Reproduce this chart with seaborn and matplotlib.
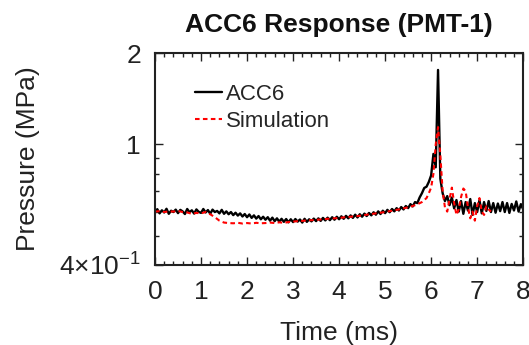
import numpy as np
import pandas as pd
import matplotlib
matplotlib.use("Agg")
import matplotlib.pyplot as plt
from matplotlib.ticker import FixedLocator, MultipleLocator, NullFormatter
import seaborn as sns

# ACC6 measured pressure (MPa), every 0.05 ms from 0 to 8 ms
acc6_time = np.linspace(0, 8, 161)
acc6_mpa = [
    0.600, 0.611, 0.592, 0.606, 0.596, 0.613, 0.590, 0.604, 0.598, 0.609,
    0.593, 0.608, 0.601, 0.589, 0.612, 0.597, 0.606, 0.591, 0.610, 0.599,
    0.594, 0.612, 0.596, 0.607, 0.590, 0.609, 0.598, 0.603, 0.592, 0.608,
    0.590, 0.601, 0.588, 0.598, 0.584, 0.595, 0.582, 0.592, 0.578, 0.589,
    0.575, 0.587, 0.572, 0.583, 0.569, 0.580, 0.566, 0.577, 0.564, 0.575,
    0.560, 0.573, 0.558, 0.570, 0.556, 0.568, 0.555, 0.567, 0.553, 0.566,
    0.554, 0.567, 0.556, 0.565, 0.552, 0.568, 0.555, 0.566, 0.557, 0.569,
    0.558, 0.570, 0.559, 0.572, 0.561, 0.573, 0.562, 0.575, 0.564, 0.577,
    0.566, 0.579, 0.568, 0.581, 0.570, 0.583, 0.572, 0.586, 0.574, 0.588,
    0.577, 0.591, 0.580, 0.594, 0.583, 0.597, 0.586, 0.601, 0.589, 0.604,
    0.593, 0.608, 0.597, 0.612, 0.601, 0.616, 0.605, 0.621, 0.610, 0.626,
    0.616, 0.635, 0.624, 0.645, 0.640, 0.668, 0.690, 0.718, 0.725, 0.752,
    0.790, 0.930, 0.840, 1.760, 0.770, 0.690, 0.650, 0.675, 0.630, 0.668,
    0.615, 0.655, 0.600, 0.650, 0.590, 0.645, 0.605, 0.660, 0.585, 0.640,
    0.598, 0.655, 0.592, 0.645, 0.603, 0.650, 0.598, 0.640, 0.595, 0.638,
    0.602, 0.645, 0.598, 0.640, 0.594, 0.636, 0.605, 0.648, 0.600, 0.635,
    0.610,
]

# simulation: 0.1 ms steps up to 5.9 ms, then 0.05 ms steps to 7.3 ms
sim_time = np.concatenate([np.linspace(0, 5.9, 60), np.linspace(5.95, 7.3, 28)])
sim_mpa = [
    0.600, 0.602, 0.598, 0.601, 0.600, 0.603, 0.598, 0.596, 0.590, 0.594,
    0.592, 0.598, 0.588, 0.575, 0.560, 0.552, 0.550, 0.549, 0.551, 0.548,
    0.550, 0.548, 0.551, 0.549, 0.550, 0.552, 0.550, 0.553, 0.551, 0.554,
    0.556, 0.558, 0.559, 0.561, 0.562, 0.564, 0.565, 0.567, 0.569, 0.570,
    0.572, 0.574, 0.576, 0.578, 0.580, 0.583, 0.586, 0.589, 0.592, 0.595,
    0.598, 0.602, 0.606, 0.610, 0.615, 0.620, 0.626, 0.634, 0.645, 0.665,
    0.690, 0.720, 0.800, 1.000, 1.140, 0.920, 0.700, 0.620, 0.600, 0.660,
    0.720, 0.640, 0.585, 0.610, 0.670, 0.715, 0.700, 0.620, 0.570, 0.600,
    0.560, 0.625, 0.665, 0.600, 0.585, 0.625, 0.610, 0.600,
]

y_ticks = [0.4, 1, 2]
y_tick_labels = [r"$\mathregular{4{\times}10^{-1}}$", "1", "2"]

sns.set_theme(style="ticks")
plt.rcParams["font.family"] = ["Liberation Sans", "DejaVu Sans"]
plt.rcParams["mathtext.fontset"] = "custom"
plt.rcParams["mathtext.rm"] = "Liberation Sans"

acc6 = pd.DataFrame({"t": acc6_time, "p": acc6_mpa})
sim = pd.DataFrame({"t": sim_time, "p": sim_mpa})

fig = plt.figure(figsize=(5.29, 3.45), dpi=100)
ax = fig.add_axes([0.293, 0.232, 0.696, 0.614])

sns.lineplot(data=acc6, x="t", y="p", color="black", lw=1.7, label="ACC6", ax=ax)
sns.lineplot(data=sim, x="t", y="p", color="red", lw=1.5, linestyle=(0, (2.2, 1.6)),
             label="Simulation", ax=ax)

ax.set_yscale("log")
ax.set_xlim(0, 8)
ax.set_ylim(0.4, 2)
ax.xaxis.set_major_locator(MultipleLocator(1))
ax.xaxis.set_minor_locator(MultipleLocator(0.2))
ax.yaxis.set_major_locator(FixedLocator(y_ticks))
ax.set_yticklabels(y_tick_labels)
ax.yaxis.set_minor_locator(FixedLocator([0.5, 0.6, 0.7, 0.8, 0.9]))
ax.yaxis.set_minor_formatter(NullFormatter())

ax.tick_params(which="both", direction="in", top=True, right=True, labelsize=19,
               width=1.0, colors="#222222", labelcolor="#222222")
ax.tick_params(which="major", length=6)
ax.tick_params(axis="x", which="major", pad=11)
ax.tick_params(axis="y", which="major", pad=10)
ax.tick_params(which="minor", length=3)
for s in ax.spines.values():
    s.set_linewidth(1.5)
    s.set_color("#222222")

ax.set_xlabel("Time (ms)", fontsize=19, labelpad=12, color="#222222")
ax.set_ylabel("Pressure (MPa)", fontsize=19, labelpad=14, color="#222222")
ax.set_title("ACC6 Response (PMT-1)", fontsize=19, fontweight="bold", pad=15,
             color="#111111")

ax.legend(loc="upper left", bbox_to_anchor=(0.085, 0.895), frameon=False, fontsize=16,
          handlelength=1.2, handletextpad=0.2, labelspacing=0.25, borderaxespad=0)

fig.savefig("out.png", dpi=100)
